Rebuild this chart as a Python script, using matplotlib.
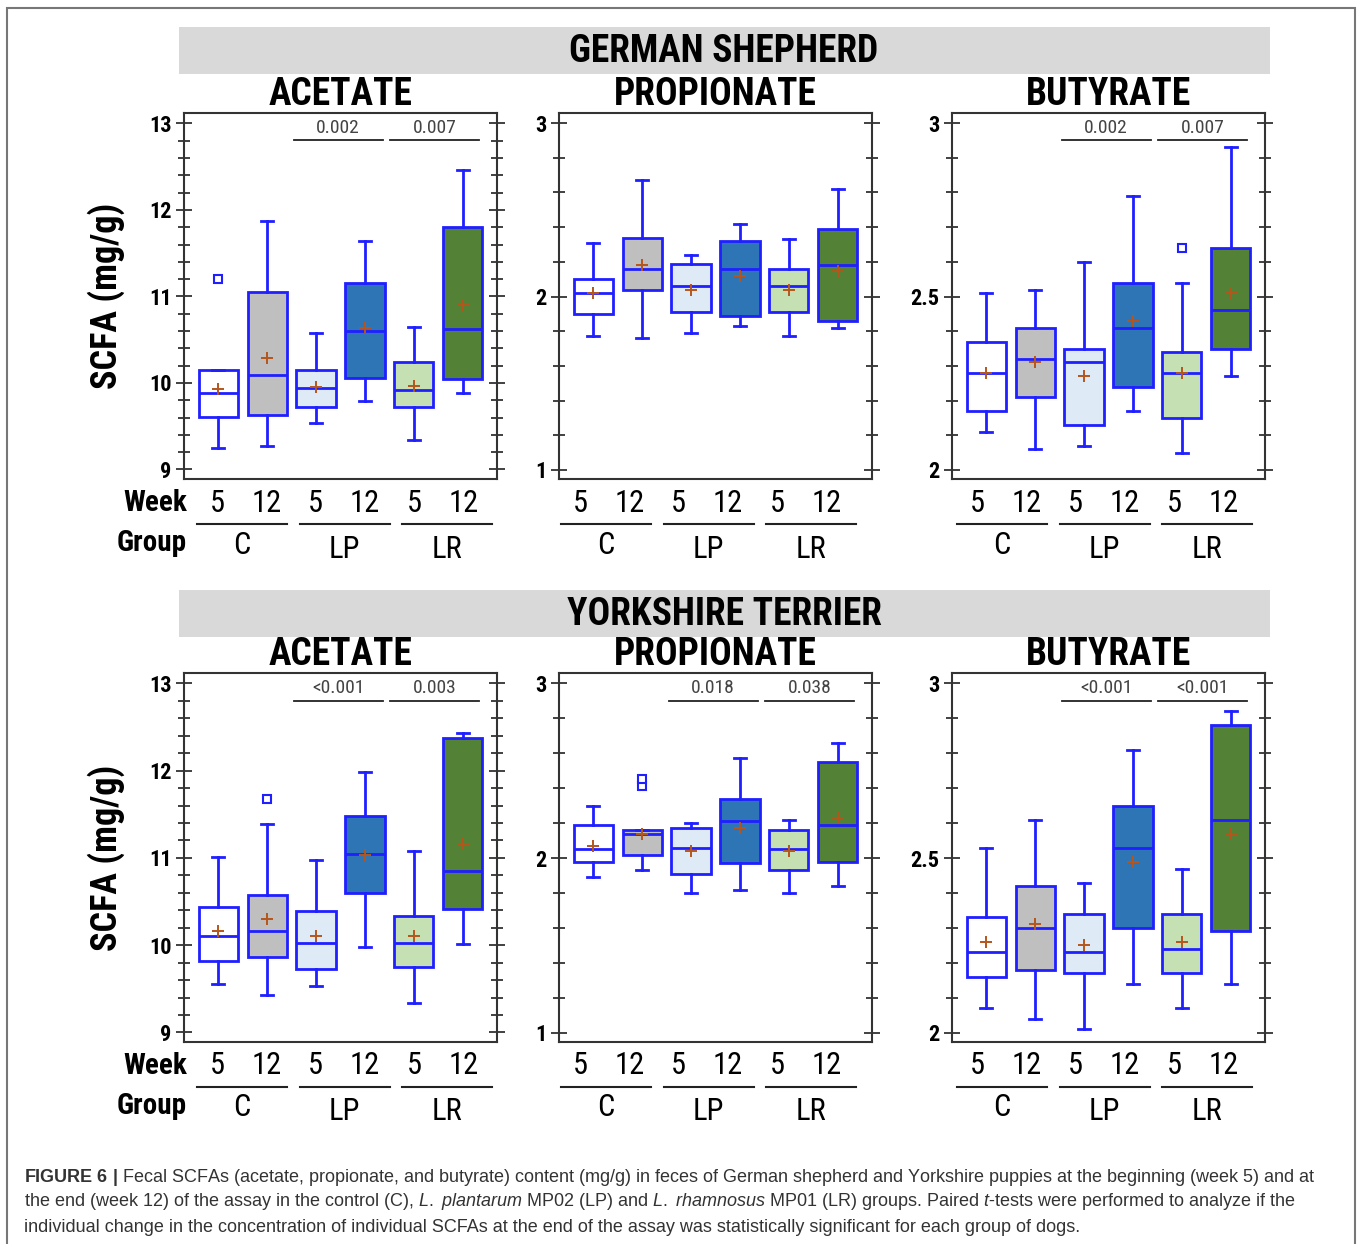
import matplotlib
matplotlib.use("Agg")
import matplotlib.pyplot as plt
from matplotlib.patches import Rectangle
from matplotlib.ticker import MultipleLocator, FuncFormatter

narrow = ['Roboto Condensed', 'Archivo Narrow', 'PT Sans Narrow', 'Liberation Sans']
plt.rcParams['font.family'] = narrow
plt.rcParams['mathtext.fontset'] = 'custom'
plt.rcParams['mathtext.rm'] = 'Liberation Sans'
plt.rcParams['mathtext.it'] = 'Liberation Sans:italic'
plt.rcParams['mathtext.bf'] = 'Liberation Sans:bold'

breeds = ['GERMAN SHEPHERD', 'YORKSHIRE TERRIER']
acids = ['ACETATE', 'PROPIONATE', 'BUTYRATE']
weeks = ['5', '12', '5', '12', '5', '12']
groups = ['C', 'LP', 'LR']

# one row per box: whisker low, q1, median, q3, whisker high, mean
gs_acetate = [
    (9.25, 9.61, 9.88, 10.15, 10.15, 9.93),
    (9.27, 9.63, 10.09, 11.05, 11.87, 10.29),
    (9.54, 9.72, 9.94, 10.15, 10.58, 9.95),
    (9.79, 10.06, 10.60, 11.15, 11.64, 10.64),
    (9.34, 9.72, 9.92, 10.24, 10.65, 9.97),
    (9.88, 10.05, 10.62, 11.80, 12.46, 10.90),
]
gs_propionate = [
    (1.77, 1.90, 2.02, 2.10, 2.31, 2.02),
    (1.76, 2.04, 2.16, 2.34, 2.67, 2.18),
    (1.79, 1.91, 2.06, 2.19, 2.24, 2.04),
    (1.83, 1.89, 2.16, 2.32, 2.42, 2.12),
    (1.77, 1.91, 2.06, 2.16, 2.33, 2.04),
    (1.82, 1.86, 2.18, 2.39, 2.62, 2.15),
]
gs_butyrate = [
    (2.11, 2.17, 2.28, 2.37, 2.51, 2.28),
    (2.06, 2.21, 2.32, 2.41, 2.52, 2.31),
    (2.07, 2.13, 2.31, 2.35, 2.60, 2.27),
    (2.17, 2.24, 2.41, 2.54, 2.79, 2.43),
    (2.05, 2.15, 2.28, 2.34, 2.54, 2.28),
    (2.27, 2.35, 2.46, 2.64, 2.93, 2.51),
]
yt_acetate = [
    (9.55, 9.82, 10.10, 10.44, 11.01, 10.16),
    (9.43, 9.87, 10.16, 10.57, 11.39, 10.30),
    (9.53, 9.73, 10.03, 10.39, 10.98, 10.10),
    (9.98, 10.60, 11.05, 11.48, 11.99, 11.03),
    (9.34, 9.75, 10.03, 10.34, 11.08, 10.10),
    (10.01, 10.42, 10.85, 12.37, 12.43, 11.16),
]
yt_propionate = [
    (1.89, 1.98, 2.05, 2.19, 2.30, 2.07),
    (1.93, 2.02, 2.14, 2.16, 2.16, 2.14),
    (1.80, 1.91, 2.06, 2.17, 2.20, 2.04),
    (1.82, 1.97, 2.21, 2.34, 2.57, 2.17),
    (1.80, 1.93, 2.05, 2.16, 2.22, 2.04),
    (1.84, 1.98, 2.19, 2.55, 2.66, 2.23),
]
yt_butyrate = [
    (2.07, 2.16, 2.23, 2.33, 2.53, 2.26),
    (2.04, 2.18, 2.30, 2.42, 2.61, 2.31),
    (2.01, 2.17, 2.23, 2.34, 2.43, 2.25),
    (2.14, 2.30, 2.53, 2.65, 2.81, 2.49),
    (2.07, 2.17, 2.24, 2.34, 2.47, 2.26),
    (2.14, 2.29, 2.61, 2.88, 2.92, 2.57),
]

# outliers: {box index: values}
gs_acetate_out = {0: [11.20]}
gs_butyrate_out = {4: [2.64]}
yt_acetate_out = {1: [11.68]}
yt_propionate_out = {1: [2.41, 2.45]}

# p-values of paired t-tests (LP, LR)
gs_pvals = [['0.002', '0.007'], [], ['0.002', '0.007']]
yt_pvals = [['<0.001', '0.003'], ['0.018', '0.038'], ['<0.001', '<0.001']]

panels = [
    [gs_acetate, gs_propionate, gs_butyrate],
    [yt_acetate, yt_propionate, yt_butyrate],
]
outliers = [[gs_acetate_out, {}, gs_butyrate_out], [yt_acetate_out, yt_propionate_out, {}]]
pvals = [gs_pvals, yt_pvals]

ylims = [(8.89, 13.12), (0.948, 3.058), (1.974, 3.029)]
majors = [1, 1, 0.5]
minors = [0.2, 0.2, 0.1]

fills = ['white', '#bfbfbf', '#deeaf6', '#2e75b6', '#c5e0b3', '#538135']
edge = '#1f1fff'
mean_col = '#b5561c'
dark = '#333333'

W, H = 1358, 1244
fig = plt.figure(figsize=(W / 100, H / 100), dpi=100)


def fy(py):
    return 1 - py / H


# outer frame
fig.patches.append(Rectangle((7 / W, fy(1260)), 1348 / W, 1252 / H, transform=fig.transFigure,
                             fill=False, ec='#777777', lw=1.5))

col_left = [184, 559, 952]
ax_w = 313
row_top = [113, 673]
ax_h = [366, 369]
band_top = [27, 590]
week_start = [33, 21, 25]     # px from axes left to first week label
group_start = [58, 47, 50]    # px from axes left to first group centre

pos = [1, 2, 3, 4, 5, 6]

for r in range(2):
    fig.patches.append(Rectangle((179 / W, fy(band_top[r] + 47)), 1091 / W, 47 / H,
                                 transform=fig.transFigure, color='#d9d9d9', lw=0))
    fig.text(724 / W, fy(band_top[r] + 24), breeds[r], ha='center', va='center',
             fontsize=27, fontweight='bold')
    fig.text(106 / W, fy(row_top[r] + ax_h[r] / 2), 'SCFA (mg/g)', rotation=90,
             ha='center', va='center', fontsize=26, fontweight='bold')

    for c in range(3):
        bottom_px = row_top[r] + ax_h[r]
        ax = fig.add_axes([col_left[c] / W, fy(bottom_px), ax_w / W, ax_h[r] / H])
        rows = panels[r][c]
        stats = []
        for i, (lo, q1, med, q3, hi, mean) in enumerate(rows):
            stats.append(dict(whislo=lo, q1=q1, med=med, q3=q3, whishi=hi, mean=mean,
                              fliers=outliers[r][c].get(i, [])))
        bp = ax.bxp(stats, positions=pos, widths=0.8, capwidths=0.24, showmeans=True,
                    patch_artist=True,
                    boxprops=dict(edgecolor=edge, linewidth=2),
                    medianprops=dict(color=edge, linewidth=2),
                    whiskerprops=dict(color=edge, linewidth=2),
                    capprops=dict(color=edge, linewidth=2),
                    flierprops=dict(marker='s', markerfacecolor='white', markeredgecolor=edge,
                                    markersize=6, markeredgewidth=1.5),
                    meanprops=dict(marker='+', markeredgecolor=mean_col, markersize=9,
                                   markeredgewidth=1.4))
        for patch, fc in zip(bp['boxes'], fills):
            patch.set_facecolor(fc)

        ax.set_xlim(0.3, 6.7)
        ax.set_ylim(*ylims[c])
        ax.set_xticks([])
        ax.yaxis.set_major_locator(MultipleLocator(majors[c]))
        ax.yaxis.set_minor_locator(MultipleLocator(minors[c]))
        ax.yaxis.set_major_formatter(FuncFormatter(lambda v, p: f'{v:g}'))
        ax.tick_params(axis='y', which='both', direction='inout', right=True, color=dark,
                       width=1.3)
        ax.tick_params(axis='y', which='major', length=12, labelsize=16, pad=3)
        ax.tick_params(axis='y', which='minor', length=9)
        for lab in ax.get_yticklabels():
            lab.set_fontweight('bold')
        for sp in ax.spines.values():
            sp.set_color(dark)
            sp.set_linewidth(1.5)
        ax.set_title(acids[c], fontsize=27, fontweight='bold', pad=3)

        # significance bars
        bt = ax.get_xaxis_transform()
        for k, txt in enumerate(pvals[r][c]):
            xc = 3.45 + 2 * k - 0.03 * k
            ax.plot([xc - 0.91, xc + 0.91], [0.925, 0.925], color='#222222', lw=1.3,
                    transform=bt, clip_on=False)
            ax.text(xc, 0.935, txt, transform=bt, ha='center', va='bottom', fontsize=14,
                    color='#444444')

        # week / group labels under the panel
        left_px = col_left[c]
        for i, wk in enumerate(weeks):
            fig.text((left_px + week_start[c] + 49.3 * i) / W, fy(bottom_px + 24), wk,
                     ha='center', va='center', fontsize=22)
        for g, name in enumerate(groups):
            gx = left_px + group_start[c] + 102.5 * g
            fig.add_artist(plt.Line2D([(gx - 45) / W, (gx + 45) / W], [fy(bottom_px + 45)] * 2,
                                      color='#222222', lw=1.5, transform=fig.transFigure))
            fig.text(gx / W, fy(bottom_px + 66 + (4 if g else 0)), name, ha='center',
                     va='center', fontsize=22)
        if c == 0:
            fig.text((left_px + 3) / W, fy(bottom_px + 24), 'Week', ha='right', va='center',
                     fontsize=21, fontweight='bold')
            fig.text((left_px + 3) / W, fy(bottom_px + 64), 'Group', ha='right', va='center',
                     fontsize=21, fontweight='bold')

# caption
cap = [
    r"$\bf{FIGURE\ 6\ |}$ Fecal SCFAs (acetate, propionate, and butyrate) content (mg/g) in feces of "
    r"German shepherd and Yorkshire puppies at the beginning (week 5) and at",
    r"the end (week 12) of the assay in the control (C), $\it{L.}$ $\it{plantarum}$ MP02 (LP) and "
    r"$\it{L.}$ $\it{rhamnosus}$ MP01 (LR) groups. Paired $\it{t}$-tests were performed to analyze if the",
    "individual change in the concentration of individual SCFAs at the end of the assay was "
    "statistically significant for each group of dogs.",
]
for i, line in enumerate(cap):
    fig.text(24 / W, fy(1177 + 25 * i), line, ha='left', va='center', fontsize=13,
             family='Liberation Sans', color='#333333')

fig.savefig('out.png', dpi=100)
